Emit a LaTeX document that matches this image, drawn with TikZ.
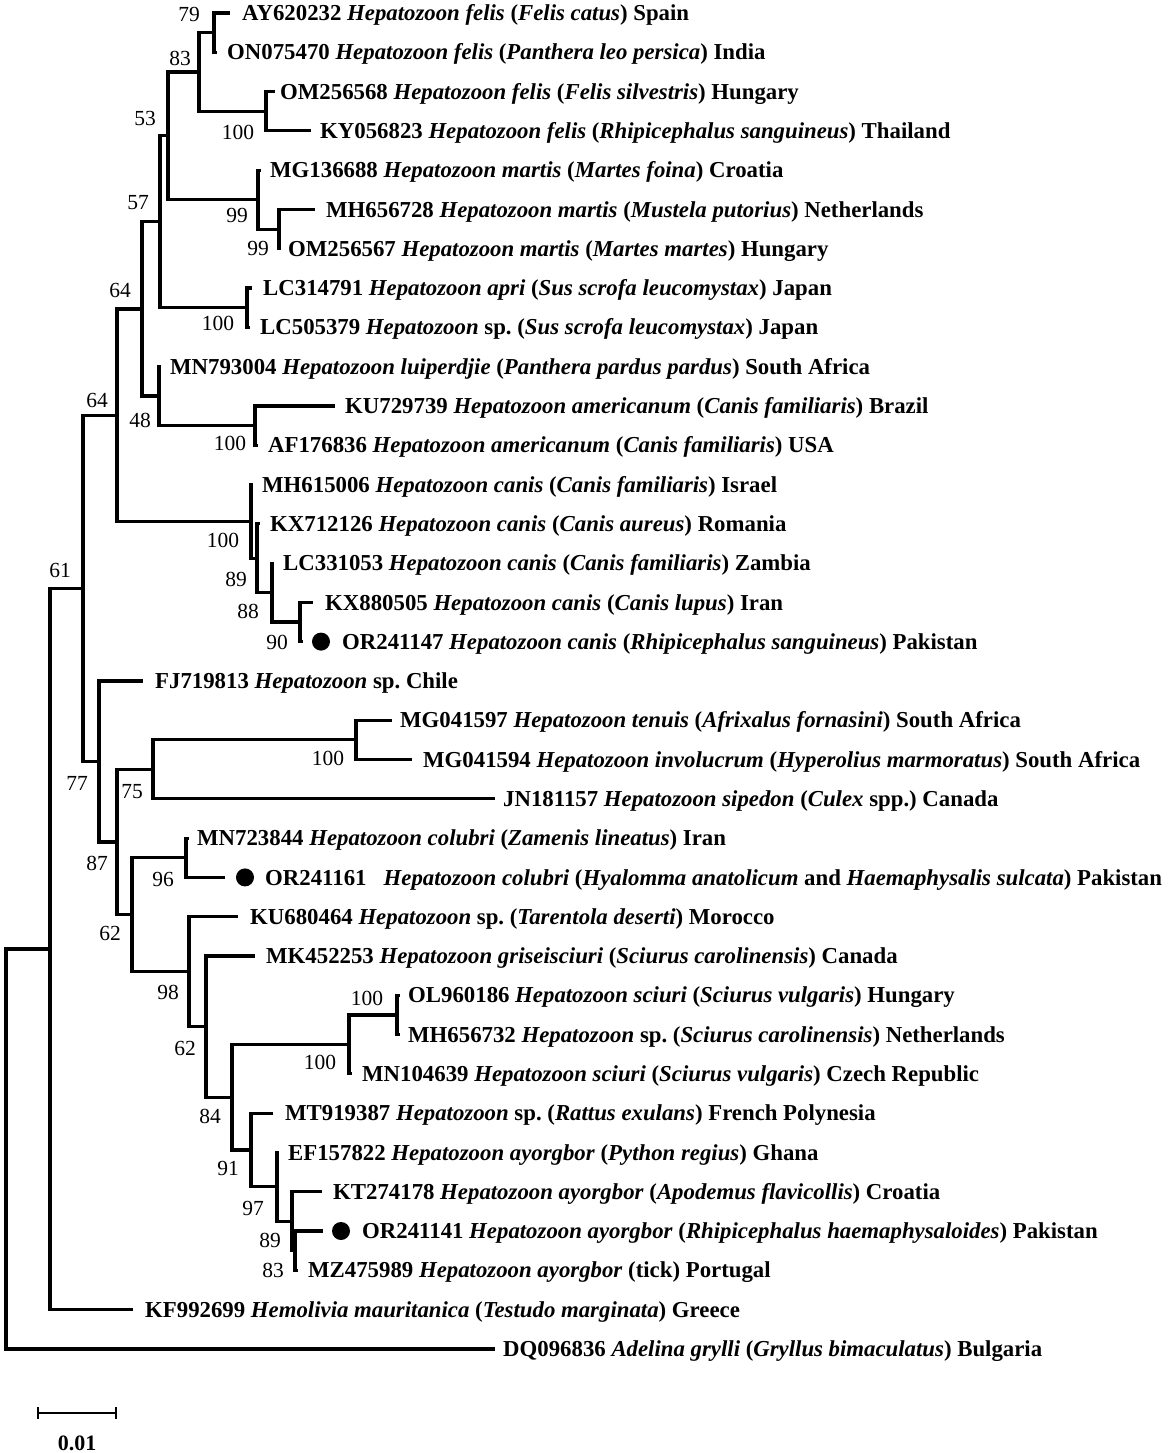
\documentclass[tikz,border=0pt]{standalone}
\usepackage{fontspec}
\setmainfont{Liberation Serif}
\frenchspacing
\begin{document}
\begin{tikzpicture}[x=1pt,y=-1pt]
\tikzset{
 br/.style={line width=3.2pt, line join=miter},
 lf/.style={anchor=base west, inner sep=0pt, font=\fontsize{22.8}{27}\selectfont\bfseries, yshift=-7.6pt},
 bs/.style={inner sep=0pt, font=\fontsize{21.5}{24}\selectfont},
 dotm/.style={circle, fill=black, inner sep=0pt, minimum size=18pt},
 sbar/.style={line width=2.2pt},
}
\useasboundingbox (0,0) rectangle (1170,1453);
% ---------- leaves ----------
\coordinate (e1) at (230,13.0);   \node[lf] (t1) at (242,13.0) {AY620232 \textit{Hepatozoon felis} (\textit{Felis catus}) Spain};
\coordinate (e2) at (217,52.3);   \node[lf] (t2) at (227,52.3) {ON075470 \textit{Hepatozoon felis} (\textit{Panthera leo persica}) India};
\coordinate (e3) at (275,91.6);   \node[lf] (t3) at (280,91.6) {OM256568 \textit{Hepatozoon felis} (\textit{Felis silvestris}) Hungary};
\coordinate (e4) at (311,130.9);  \node[lf] (t4) at (320,130.9) {KY056823 \textit{Hepatozoon felis} (\textit{Rhipicephalus sanguineus}) Thailand};
\coordinate (e5) at (261,170.2);  \node[lf] (t5) at (270,170.2) {MG136688 \textit{Hepatozoon martis} (\textit{Martes foina}) Croatia};
\coordinate (e6) at (315,209.5);  \node[lf] (t6) at (326,209.5) {MH656728 \textit{Hepatozoon martis} (\textit{Mustela putorius}) Netherlands};
\coordinate (e7) at (281,248.7);  \node[lf] (t7) at (288,248.7) {OM256567 \textit{Hepatozoon martis} (\textit{Martes martes}) Hungary};
\coordinate (e8) at (252,288.0);  \node[lf] (t8) at (263,288.0) {LC314791 \textit{Hepatozoon apri} (\textit{Sus scrofa leucomystax}) Japan};
\coordinate (e9) at (250,327.3);  \node[lf] (t9) at (260,327.3) {LC505379 \textit{Hepatozoon} sp. (\textit{Sus scrofa leucomystax}) Japan};
\coordinate (e10) at (161,366.6); \node[lf] (t10) at (170,366.6) {MN793004 \textit{Hepatozoon luiperdjie} (\textit{Panthera pardus pardus}) South Africa};
\coordinate (e11) at (335,405.9); \node[lf] (t11) at (345,405.9) {KU729739 \textit{Hepatozoon americanum} (\textit{Canis familiaris}) Brazil};
\coordinate (e12) at (258,445.2); \node[lf] (t12) at (268,445.2) {AF176836 \textit{Hepatozoon americanum} (\textit{Canis familiaris}) USA};
\coordinate (e13) at (253,484.5); \node[lf] (t13) at (262,484.5) {MH615006 \textit{Hepatozoon canis} (\textit{Canis familiaris}) Israel};
\coordinate (e14) at (260,523.8); \node[lf] (t14) at (270,523.8) {KX712126 \textit{Hepatozoon canis} (\textit{Canis aureus}) Romania};
\coordinate (e15) at (274,563.1); \node[lf] (t15) at (283,563.1) {LC331053 \textit{Hepatozoon canis} (\textit{Canis familiaris}) Zambia};
\coordinate (e16) at (313,602.4); \node[lf] (t16) at (325,602.4) {KX880505 \textit{Hepatozoon canis} (\textit{Canis lupus}) Iran};
\coordinate (e17) at (303,641.6); \node[dotm] (d17) at (321,641.6) {};
\node[lf] (t17) at (342,641.6) {OR241147 \textit{Hepatozoon canis} (\textit{Rhipicephalus sanguineus}) Pakistan};
\coordinate (e18) at (143,680.9); \node[lf] (t18) at (155,680.9) {FJ719813 \textit{Hepatozoon} sp. Chile};
\coordinate (e19) at (392,720.2); \node[lf] (t19) at (400,720.2) {MG041597 \textit{Hepatozoon tenuis} (\textit{Afrixalus fornasini}) South Africa};
\coordinate (e20) at (412,759.5); \node[lf] (t20) at (423,759.5) {MG041594 \textit{Hepatozoon involucrum} (\textit{Hyperolius marmoratus}) South Africa};
\coordinate (e21) at (495,798.8); \node[lf] (t21) at (503,798.8) {JN181157 \textit{Hepatozoon sipedon} (\textit{Culex} spp.) Canada};
\coordinate (e22) at (189,838.1); \node[lf] (t22) at (197,838.1) {MN723844 \textit{Hepatozoon colubri} (\textit{Zamenis lineatus}) Iran};
\coordinate (e23) at (225,877.4); \node[dotm] (d23) at (245,877.4) {};
\node[lf] (t23) at (265,877.4) {OR241161\hspace{0.5em} \textit{Hepatozoon colubri} (\textit{Hyalomma anatolicum} and \textit{Haemaphysalis sulcata}) Pakistan};
\coordinate (e24) at (238,916.7); \node[lf] (t24) at (250,916.7) {KU680464 \textit{Hepatozoon} sp. (\textit{Tarentola deserti}) Morocco};
\coordinate (e25) at (255,956.0); \node[lf] (t25) at (266,956.0) {MK452253 \textit{Hepatozoon griseisciuri} (\textit{Sciurus carolinensis}) Canada};
\coordinate (e26) at (400,995.3); \node[lf] (t26) at (408,995.3) {OL960186 \textit{Hepatozoon sciuri} (\textit{Sciurus vulgaris}) Hungary};
\coordinate (e27) at (400,1034.6); \node[lf] (t27) at (408,1034.6) {MH656732 \textit{Hepatozoon} sp. (\textit{Sciurus carolinensis}) Netherlands};
\coordinate (e28) at (352,1073.8); \node[lf] (t28) at (362,1073.8) {MN104639 \textit{Hepatozoon sciuri} (\textit{Sciurus vulgaris}) Czech Republic};
\coordinate (e29) at (273,1113.1); \node[lf] (t29) at (285,1113.1) {MT919387 \textit{Hepatozoon} sp. (\textit{Rattus exulans}) French Polynesia};
\coordinate (e30) at (279,1152.4); \node[lf] (t30) at (288,1152.4) {EF157822 \textit{Hepatozoon ayorgbor} (\textit{Python regius}) Ghana};
\coordinate (e31) at (322,1191.7); \node[lf] (t31) at (333,1191.7) {KT274178 \textit{Hepatozoon ayorgbor} (\textit{Apodemus flavicollis}) Croatia};
\coordinate (e32) at (323,1231.0); \node[dotm] (d32) at (341,1231.0) {};
\node[lf] (t32) at (362,1231.0) {OR241141 \textit{Hepatozoon ayorgbor} (\textit{Rhipicephalus haemaphysaloides}) Pakistan};
\coordinate (e33) at (298,1270.3); \node[lf] (t33) at (308,1270.3) {MZ475989 \textit{Hepatozoon ayorgbor} (tick) Portugal};
\coordinate (e34) at (133,1309.6); \node[lf] (t34) at (145,1309.6) {KF992699 \textit{Hemolivia mauritanica} (\textit{Testudo marginata}) Greece};
\coordinate (e35) at (495,1348.9); \node[lf] (t35) at (503,1348.9) {DQ096836 \textit{Adelina grylli} (\textit{Gryllus bimaculatus}) Bulgaria};
% ---------- internal nodes ----------
\coordinate (A) at (214,32.65);
\coordinate (C) at (266,111.25);
\coordinate (B) at (199,71.95);
\coordinate (G) at (279,229.1);
\coordinate (F) at (258,199.65);
\coordinate (D) at (168,135.8);
\coordinate (H) at (247,307.65);
\coordinate (E) at (160,221.73);
\coordinate (K) at (255,425.55);
\coordinate (J) at (159,396.08);
\coordinate (L) at (142,308.9);
\coordinate (R) at (300,622.0);
\coordinate (Q) at (272,592.55);
\coordinate (P) at (257,558.18);
\coordinate (O) at (251,521.34);
\coordinate (M) at (117,415.12);
\coordinate (W) at (356,739.85);
\coordinate (V) at (153,769.33);
\coordinate (Y) at (186,857.75);
\coordinate (DD) at (397,1014.95);
\coordinate (CC) at (349,1044.38);
\coordinate (HH) at (295,1250.65);
\coordinate (GG) at (292,1221.18);
\coordinate (FF) at (277,1186.79);
\coordinate (EE) at (251,1149.95);
\coordinate (BB) at (232,1097.17);
\coordinate (AA) at (206,1026.58);
\coordinate (Z) at (189,971.64);
\coordinate (X) at (132,914.7);
\coordinate (U) at (117,842.02);
\coordinate (T) at (99,761.46);
\coordinate (N) at (83,588.29);
\coordinate (S) at (50,948.95);
\coordinate (root) at (6,1148.9);
% ---------- branches ----------
\draw[br] (A) |- (e1); \draw[br] (A) |- (e2);
\draw[br] (C) |- (e3); \draw[br] (C) |- (e4);
\draw[br] (B) |- (A);  \draw[br] (B) |- (C);
\draw[br] (G) |- (e6); \draw[br] (G) |- (e7);
\draw[br] (F) |- (e5); \draw[br] (F) |- (G);
\draw[br] (D) |- (B);  \draw[br] (D) |- (F);
\draw[br] (H) |- (e8); \draw[br] (H) |- (e9);
\draw[br] (E) |- (D);  \draw[br] (E) |- (H);
\draw[br] (K) |- (e11); \draw[br] (K) |- (e12);
\draw[br] (J) |- (e10); \draw[br] (J) |- (K);
\draw[br] (L) |- (E);  \draw[br] (L) |- (J);
\draw[br] (R) |- (e16); \draw[br] (R) |- (e17);
\draw[br] (Q) |- (e15); \draw[br] (Q) |- (R);
\draw[br] (P) |- (e14); \draw[br] (P) |- (Q);
\draw[br] (O) |- (e13); \draw[br] (O) |- (P);
\draw[br] (M) |- (L);  \draw[br] (M) |- (O);
\draw[br] (W) |- (e19); \draw[br] (W) |- (e20);
\draw[br] (V) |- (W);  \draw[br] (V) |- (e21);
\draw[br] (Y) |- (e22); \draw[br] (Y) |- (e23);
\draw[br] (DD) |- (e26); \draw[br] (DD) |- (e27);
\draw[br] (CC) |- (DD); \draw[br] (CC) |- (e28);
\draw[br] (HH) |- (e32); \draw[br] (HH) |- (e33);
\draw[br] (GG) |- (e31); \draw[br] (GG) |- (HH);
\draw[br] (FF) |- (e30); \draw[br] (FF) |- (GG);
\draw[br] (EE) |- (e29); \draw[br] (EE) |- (FF);
\draw[br] (BB) |- (CC); \draw[br] (BB) |- (EE);
\draw[br] (AA) |- (e25); \draw[br] (AA) |- (BB);
\draw[br] (Z) |- (e24); \draw[br] (Z) |- (AA);
\draw[br] (X) |- (Y);  \draw[br] (X) |- (Z);
\draw[br] (U) |- (V);  \draw[br] (U) |- (X);
\draw[br] (T) |- (e18); \draw[br] (T) |- (U);
\draw[br] (N) |- (M);  \draw[br] (N) |- (T);
\draw[br] (S) |- (N);  \draw[br] (S) |- (e34);
\draw[br] (root) |- (S); \draw[br] (root) |- (e35);
% ---------- bootstrap values ----------
\node[bs] (bA) at (189,14) {79};
\node[bs] (bB) at (180,58) {83};
\node[bs] (bC) at (238,132) {100};
\node[bs] (bD) at (145,118) {53};
\node[bs] (bF) at (237,215) {99};
\node[bs] (bG) at (258,248) {99};
\node[bs] (bE) at (138,203) {57};
\node[bs] (bL) at (120,290) {64};
\node[bs] (bH) at (218,323) {100};
\node[bs] (bJ) at (140,420) {48};
\node[bs] (bK) at (230,443) {100};
\node[bs] (bM) at (97,400) {64};
\node[bs] (bO) at (223,540) {100};
\node[bs] (bP) at (236,579) {89};
\node[bs] (bQ) at (248,611) {88};
\node[bs] (bR) at (277,642) {90};
\node[bs] (bN) at (60,570) {61};
\node[bs] (bT) at (77,783) {77};
\node[bs] (bW) at (328,758) {100};
\node[bs] (bV) at (132,792) {75};
\node[bs] (bU) at (97,863) {87};
\node[bs] (bY) at (163,879) {96};
\node[bs] (bX) at (110,933) {62};
\node[bs] (bZ) at (168,992) {98};
\node[bs] (bAA) at (185,1048) {62};
\node[bs] (bDD) at (367,998) {100};
\node[bs] (bCC) at (320,1062) {100};
\node[bs] (bBB) at (210,1116) {84};
\node[bs] (bEE) at (228,1168) {91};
\node[bs] (bFF) at (253,1208) {97};
\node[bs] (bGG) at (270,1240) {89};
\node[bs] (bHH) at (273,1270) {83};
% ---------- scale bar ----------
\coordinate (sb1) at (38,1413);
\coordinate (sb2) at (116,1413);
\draw[sbar] (sb1) -- (sb2);
\draw[sbar] ([yshift=6pt]sb1) -- ([yshift=-6pt]sb1);
\draw[sbar] ([yshift=6pt]sb2) -- ([yshift=-6pt]sb2);
\node[inner sep=0pt, font=\fontsize{22}{26}\selectfont\bfseries] (sbl) at (77,1443) {0.01};
\end{tikzpicture}
\end{document}
